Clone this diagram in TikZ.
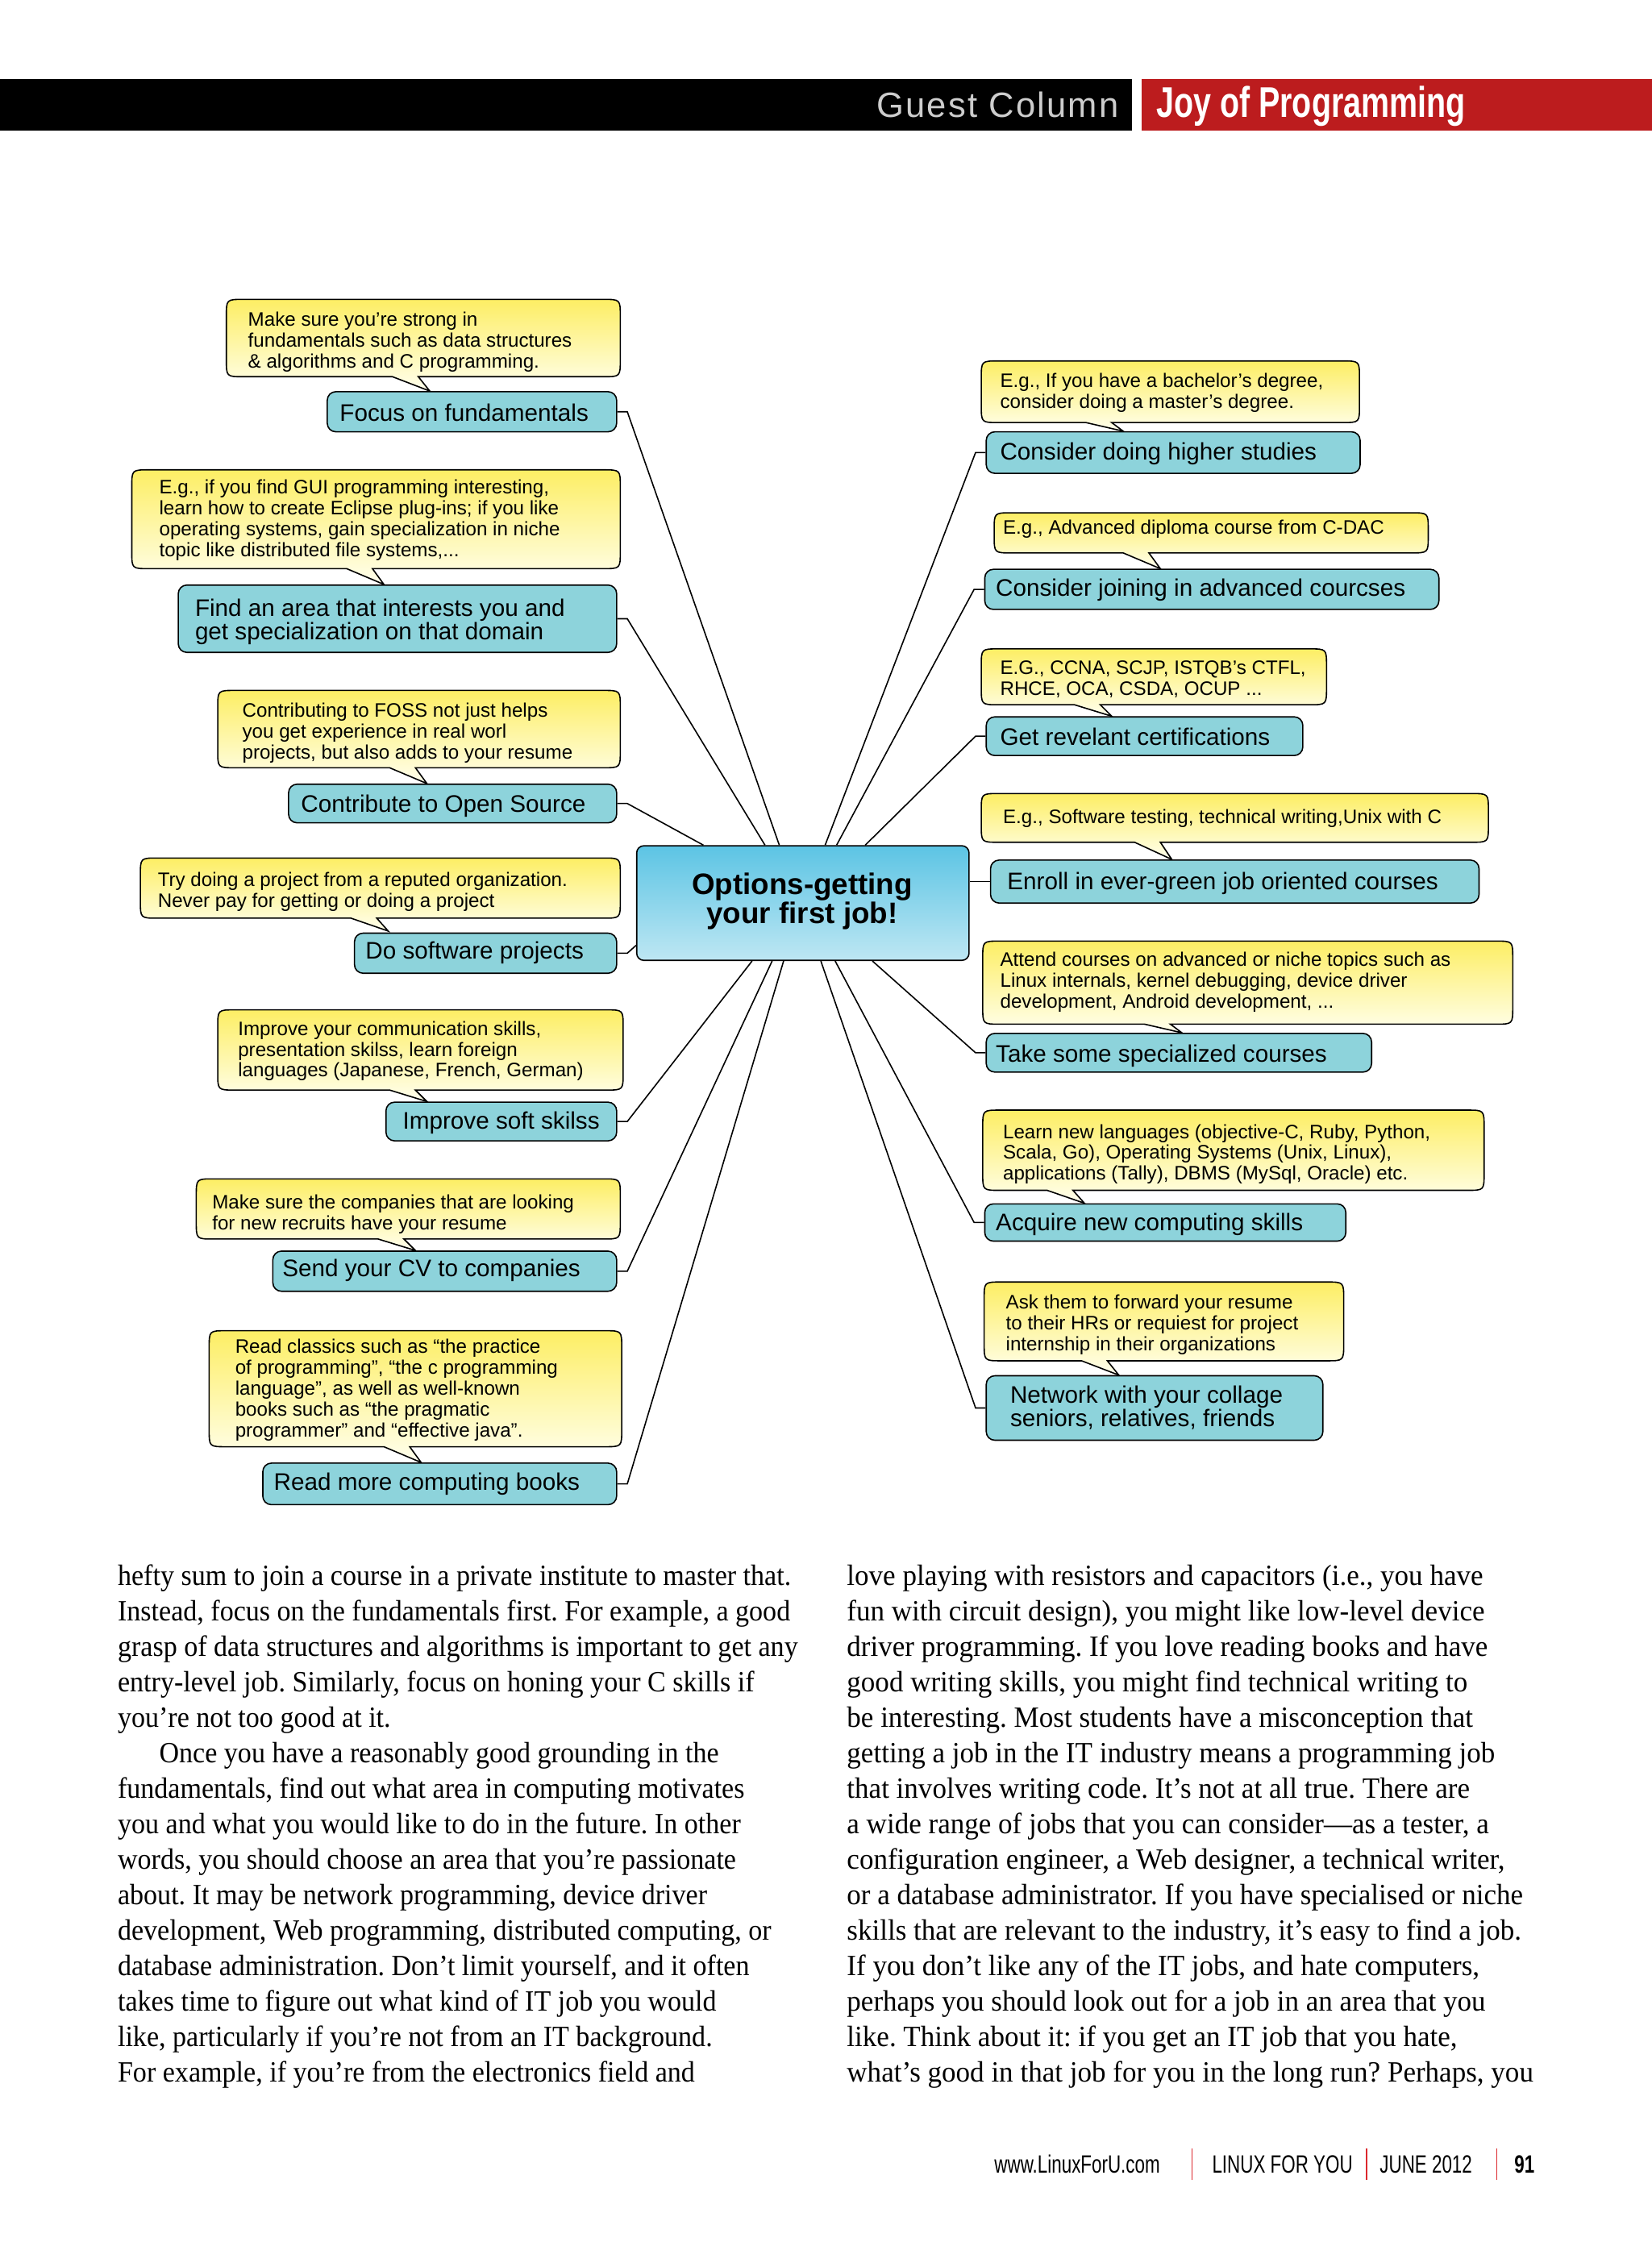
\documentclass[tikz,border=0pt]{standalone}
\usepackage{fontspec}
\usetikzlibrary{calc}
\newfontfamily\bodyf{Liberation Serif}[FakeStretch=0.935]
\newfontfamily\bodyrf{Liberation Serif}[FakeStretch=0.962]
\newfontfamily\sansf{Liberation Sans}
\newfontfamily\condf{Liberation Sans}[FakeStretch=0.72]
\newfontfamily\jopf{Liberation Sans}[FakeStretch=0.74]
\newfontfamily\guestf{Liberation Sans}[LetterSpace=5]
\definecolor{tealbox}{RGB}{141,211,219}
\definecolor{yellowtop}{RGB}{253,238,100}
\definecolor{yellowbot}{RGB}{255,255,238}
\definecolor{ctop}{RGB}{92,196,228}
\definecolor{cbot}{RGB}{190,231,243}
\definecolor{hdrred}{RGB}{188,28,30}
\definecolor{barred}{RGB}{220,40,45}
\definecolor{guestgray}{RGB}{205,205,205}
\newcommand\mytstrut{\rule{0pt}{12pt}}
\newcommand\mycstrut{\rule{0pt}{10pt}}
\frenchspacing
\tikzset{
  teal box/.style={draw=black, line width=0.9pt, fill=tealbox, rounded corners=6pt, inner sep=0pt},
  ttext/.style={font=\sansf\fontsize{16.7}{15}\selectfont, inner sep=0pt, anchor=north west, align=left},
  ctext/.style={font=\sansf\fontsize{13.6}{14.6}\selectfont, inner sep=0pt, anchor=north west, align=left},
  conn/.style={draw=black, line width=0.9pt},
  callout/.style={draw=black, line width=0.9pt, top color=yellowtop, bottom color=yellowbot},
  body/.style={font=\bodyf\fontsize{20.5}{24.8}\selectfont, inner sep=0pt, anchor=base west},
  bodyr/.style={font=\bodyrf\fontsize{20.5}{24.8}\selectfont, inner sep=0pt, anchor=base west},
  foot/.style={font=\condf\fontsize{17.5}{20}\selectfont, inner sep=0pt, anchor=base west},
}
% teal box: name, x1, y1, x2, y2, text x, text top, text
\newcommand\tbox[8]{%
  \node[teal box, minimum width={#4-#2}, minimum height={#5-#3}, anchor=north west] (#1) at (#2,#3) {};
  \node[ttext] (#1-t) at (#6,#7) {\mytstrut #8};}
% callout shape: x1, y1, x2, y2, tip x, tip y
\newcommand\mycallout[6]{%
  \path[callout] (#1+12,#2) -- (#3-12,#2) .. controls (#3,#2) .. (#3,#2+12)
    -- (#3,#4-12) .. controls (#3,#4) .. (#3-12,#4)
    -- (#5-8,#4) -- (#5,#6) -- (#5-26,#4)
    -- (#1+12,#4) .. controls (#1,#4) .. (#1,#4-12)
    -- (#1,#2+12) .. controls (#1,#2) .. (#1+12,#2) -- cycle;}
\begin{document}
\begin{tikzpicture}[x=1pt, y=-1pt]
\useasboundingbox (0,0) rectangle (1153,1568);
\fill[white] (0,0) rectangle (1153,1568);

% ---------- header ----------
\fill[black] (0,55) rectangle (790,91);
\fill[hdrred] (797,55) rectangle (1153,91);
\node[inner sep=0pt, anchor=base east, text=guestgray, font=\guestf\fontsize{24.5}{26}\selectfont] (guest) at (781,82) {Guest Column};
\node[inner sep=0pt, anchor=base west, text=white, font=\jopf\bfseries\fontsize{30}{32}\selectfont] (joy) at (807,82) {Joy of Programming};

% ---------- callouts (left) ----------
\mycallout{158}{209}{433}{263}{300}{273}
\node[ctext] (c1) at (173,217.5) {\mycstrut Make sure you’re strong in\\fundamentals such as data structures\\\& algorithms and C programming.};
\mycallout{92}{328}{433}{397}{268}{408}
\node[ctext] (c2) at (111,334.5) {\mycstrut E.g., if you find GUI programming interesting,\\learn how to create Eclipse plug-ins; if you like\\operating systems, gain specialization in niche\\topic like distributed file systems,...};
\mycallout{152}{482}{433}{536}{298}{547}
\node[ctext] (c3) at (169,490.5) {\mycstrut Contributing to FOSS not just helps\\you get experience in real worl\\projects, but also adds to your resume};
\mycallout{98}{599}{433}{641}{271}{650}
\node[ctext] (c4) at (110,608.5) {\mycstrut Try doing a project from a reputed organization.\\Never pay for getting or doing a project};
\mycallout{152}{705}{435}{761}{298}{769}
\node[ctext] (c5) at (166,712.5) {\mycstrut Improve your communication skills,\\presentation skilss, learn foreign\\languages (Japanese, French, German)};
\mycallout{137}{823}{433}{865}{290}{873}
\node[ctext] (c6) at (148,833.5) {\mycstrut Make sure the companies that are looking\\for new recruits have your resume};
\mycallout{146}{929}{434}{1010}{294}{1021}
\node[ctext] (c7) at (164,934.5) {\mycstrut Read classics such as “the practice\\of programming”, “the c programming\\language”, as well as well-known\\books such as “the pragmatic\\programmer” and “effective java”.};

% ---------- callouts (right) ----------
\mycallout{685}{252}{949}{295}{784}{301}
\node[ctext] (c8) at (698,260.5) {\mycstrut E.g., If you have a bachelor’s degree,\\consider doing a master’s degree.};
\mycallout{694}{358}{997}{386}{810}{397}
\node[ctext] (c9) at (700,362.5) {\mycstrut E.g., Advanced diploma course from C-DAC};
\mycallout{685}{453}{926}{492}{776}{500}
\node[ctext] (c10) at (698,460.5) {\mycstrut E.G., CCNA, SCJP, ISTQB’s CTFL,\\RHCE, OCA, CSDA, OCUP ...};
\mycallout{685}{554}{1039}{588}{818}{600}
\node[ctext] (c11) at (700,564.5) {\mycstrut E.g., Software testing, technical writing,Unix with C};
\mycallout{686}{657}{1056}{715}{825}{721}
\node[ctext] (c12) at (698,664.5) {\mycstrut Attend courses on advanced or niche topics such as\\Linux internals, kernel debugging, device driver\\development, Android development, ...};
\mycallout{686}{775}{1036}{831}{757}{840}
\node[ctext] (c13) at (700,784.5) {\mycstrut Learn new languages (objective-C, Ruby, Python,\\Scala, Go), Operating Systems (Unix, Linux),\\applications (Tally), DBMS (MySql, Oracle) etc.};
\mycallout{687}{895}{938}{950}{781}{960}
\node[ctext] (c14) at (702,903.5) {\mycstrut Ask them to forward your resume\\to their HRs or requiest for project\\internship in their organizations};

% ---------- teal boxes ----------
\tbox{b1}{228}{273}{430}{301}{237}{282}{Focus on fundamentals}
\tbox{b2}{124}{408}{430}{455}{136}{418}{Find an area that interests you and\\get specialization on that domain}
\tbox{b3}{201}{547}{430}{574}{210}{555}{Contribute to Open Source}
\tbox{b4}{247}{651}{430}{679}{255}{657}{Do software projects}
\tbox{b5}{269}{769}{430}{796}{281}{776}{Improve soft skilss}
\tbox{b6}{190}{873}{430}{901}{197}{879}{Send your CV to companies}
\tbox{b7}{183}{1021}{430}{1050}{191}{1028}{Read more computing books}
\tbox{b8}{688}{301}{949}{330}{698}{309}{Consider doing higher studies}
\tbox{b9}{687}{397}{1004}{425}{695}{404}{Consider joining in advanced courcses}
\tbox{b10}{688}{500}{909}{527}{698}{508}{Get revelant certifications}
\tbox{b11}{691}{600}{1032}{630}{703}{609}{Enroll in ever-green job oriented courses}
\tbox{b12}{688}{721}{957}{748}{695}{729}{Take some specialized courses}
\tbox{b13}{687}{840}{939}{866}{695}{847}{Acquire new computing skills}
\tbox{b14}{688}{960}{923}{1005}{705}{967}{Network with your collage\\seniors, relatives, friends}

% ---------- central node ----------
\node[draw=black, line width=0.9pt, rounded corners=5pt, top color=ctop, bottom color=cbot,
      minimum width=232, minimum height=80, inner sep=0pt, anchor=north west] (ctr) at (444,590) {};
\node[inner sep=0pt, anchor=north, align=center, font=\sansf\bfseries\fontsize{20.7}{19}\selectfont] (ctr-t) at (560,608.5)
  {\rule{0pt}{15.5pt}Options-getting\\your first job!};

% attachment points on the central node
\coordinate (t1) at ($(ctr.north west)+(100,0)$);
\coordinate (t2) at ($(ctr.north west)+(90,0)$);
\coordinate (t3) at ($(ctr.north west)+(47,0)$);
\coordinate (t4) at ($(ctr.north west)+(0,70)$);
\coordinate (t5) at ($(ctr.south west)+(81,0)$);
\coordinate (t6) at ($(ctr.south west)+(95,0)$);
\coordinate (t7) at ($(ctr.south west)+(103,0)$);
\coordinate (t8) at ($(ctr.north west)+(132,0)$);
\coordinate (t9) at ($(ctr.north west)+(140,0)$);
\coordinate (t10) at ($(ctr.north west)+(160,0)$);
\coordinate (t11) at ($(ctr.north east)+(0,25)$);
\coordinate (t12) at ($(ctr.south west)+(165,0)$);
\coordinate (t13) at ($(ctr.south west)+(139,0)$);
\coordinate (t14) at ($(ctr.south west)+(129,0)$);

% ---------- connectors ----------
\foreach \b in {1,2,3,4,5,6,7}{\draw[conn] (b\b.east) -- ++(7,0) -- (t\b);}
\foreach \b in {8,9,10,12,13,14}{\draw[conn] (b\b.west) -- ++(-7,0) -- (t\b);}
\draw[conn] (b11.west) -- (b11.west -| t11);

% ---------- body text ----------
\foreach \t [count=\i] in {
 {hefty sum to join a course in a private institute to master that.},
 {Instead, focus on the fundamentals first. For example, a good},
 {grasp of data structures and algorithms is important to get any},
 {entry-level job. Similarly, focus on honing your C skills if},
 {you’re not too good at it.},
 {\hspace*{29pt}Once you have a reasonably good grounding in the},
 {fundamentals, find out what area in computing motivates},
 {you and what you would like to do in the future. In other},
 {words, you should choose an area that you’re passionate},
 {about. It may be network programming, device driver},
 {development, Web programming, distributed computing, or},
 {database administration. Don’t limit yourself, and it often},
 {takes time to figure out what kind of IT job you would},
 {like, particularly if you’re not from an IT background.},
 {For example, if you’re from the electronics field and}}
 {\node[body] (L\i) at (82,{1106.5+24.8*(\i-1)}) {\t};}
\foreach \t [count=\i] in {
 {love playing with resistors and capacitors (i.e., you have},
 {fun with circuit design), you might like low-level device},
 {driver programming. If you love reading books and have},
 {good writing skills, you might find technical writing to},
 {be interesting. Most students have a misconception that},
 {getting a job in the IT industry means a programming job},
 {that involves writing code. It’s not at all true. There are},
 {a wide range of jobs that you can consider—as a tester, a},
 {configuration engineer, a Web designer, a technical writer,},
 {or a database administrator. If you have specialised or niche},
 {skills that are relevant to the industry, it’s easy to find a job.},
 {If you don’t like any of the IT jobs, and hate computers,},
 {perhaps you should look out for a job in an area that you},
 {like. Think about it: if you get an IT job that you hate,},
 {what’s good in that job for you in the long run? Perhaps, you}}
 {\node[bodyr] (R\i) at (591,{1106.5+24.8*(\i-1)}) {\t};}

% ---------- footer ----------
\node[foot] (f1) at (694,1517) {www.LinuxForU.com};
\node[foot] (f2) at (846,1517) {LINUX FOR YOU};
\node[foot] (f3) at (963,1517) {JUNE 2012};
\node[foot, font=\condf\bfseries\fontsize{17.5}{20}\selectfont] (f4) at (1057,1517) {91};
\foreach \x in {832,954,1045}{\draw[barred, line width=0.8pt] (\x,1500) -- (\x,1522);}
\end{tikzpicture}
\end{document}
